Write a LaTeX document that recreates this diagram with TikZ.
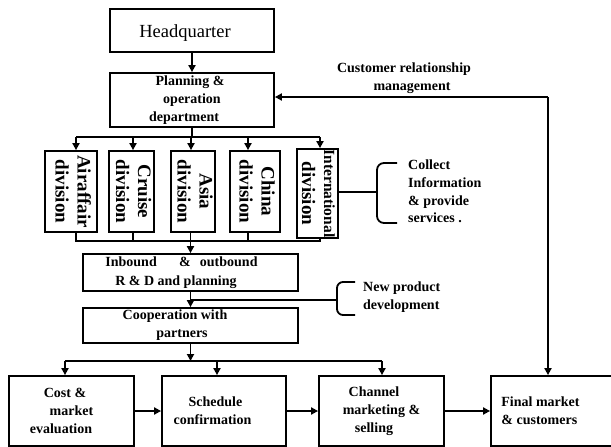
\documentclass[tikz,border=0pt]{standalone}
\usepackage{fontspec}
\setmainfont{Liberation Serif}
\usetikzlibrary{arrows.meta}
\begin{document}
\begin{tikzpicture}[x=1pt,y=-1pt,
  ln/.style={line width=1.8pt},
  arr/.style={line width=1.8pt,-{Triangle[length=7pt,width=7pt]}},
  box/.style={draw,line width=1.8pt,inner sep=0pt,align=center,font=\bfseries\fontsize{14}{18}\selectfont},
  divbox/.style={draw,line width=1.8pt,inner sep=0pt,minimum height=81pt,font=\bfseries\fontsize{19}{22}\selectfont},
  lbl/.style={inner sep=0pt,align=left,font=\bfseries\fontsize{14}{18}\selectfont}]
\useasboundingbox (0,0) rectangle (611,447);
\clip (-1,-1) rectangle (611,448);
% boxes
\node[box,font=\fontsize{18.5}{22}\selectfont,minimum width=164pt,minimum height=43pt] (hq) at (192,30.5) {\raisebox{-3pt}[\height][\depth]{Headquarter}\hspace*{14pt}};
\node[box,minimum width=164pt,minimum height=54pt] (plan) at (192,100) {Planning \&\hspace*{4pt}\\operation\hspace*{20pt}\\department\hspace*{16pt}};
\node[divbox,minimum width=52pt] (d1) at (71,191.5) {\makebox[0pt]{\rotatebox{-90}{\begin{tabular}{@{}c@{}}Airaffair\\division\end{tabular}}}};
\node[divbox,minimum width=45pt] (d2) at (131.5,191.5) {\makebox[0pt]{\rotatebox{-90}{\begin{tabular}{@{}c@{}}Cruise\\division\end{tabular}}}};
\node[divbox,minimum width=44pt] (d3) at (193,191.5) {\makebox[0pt]{\rotatebox{-90}{\begin{tabular}{@{}c@{}}Asia\\division\end{tabular}}}};
\node[divbox,minimum width=50pt] (d4) at (255,191.5) {\makebox[0pt]{\rotatebox{-90}{\begin{tabular}{@{}c@{}}China\\division\end{tabular}}}};
\node[divbox,minimum width=41pt,minimum height=89pt] (d5) at (317.5,193.5) {\makebox[0pt]{\rotatebox{-90}{\begin{tabular}{@{}c@{}}{\fontsize{15.5}{22}\selectfont International}\\division\end{tabular}}}};
\node[box,font=\bfseries\fontsize{14}{19}\selectfont,minimum width=215pt,minimum height=37pt] (inb) at (190.5,272.5) {Inbound\hspace{1.6em}\&\hspace{0.65em}outbound\hspace*{18pt}\\R \& D and planning\hspace*{29pt}};
\node[box,minimum width=215pt,minimum height=35pt] (coop) at (190.5,325.5) {Cooperation with\hspace*{31pt}\\partners\hspace*{17pt}};
\node[box,minimum width=125pt,minimum height=70pt] (cost) at (71.5,411) {Cost \&\hspace*{13pt}\\market\hspace*{13pt}\\evaluation\hspace*{21pt}};
\node[box,minimum width=124pt,minimum height=70pt] (sched) at (224,411) {Schedule\hspace*{17pt}\\confirmation\hspace*{23pt}};
\node[box,minimum width=125pt,minimum height=70pt] (chan) at (381.5,411) {Channel\hspace*{15pt}\\marketing \&\hspace*{15pt}\\selling\hspace*{15pt}};
\node[box,align=left,minimum width=149pt,minimum height=70pt] (final) at (565.5,411) {Final market\hspace*{50pt}\\\& customers\hspace*{50pt}};
% labels
\node[lbl,align=center] (crm) at (404,78) {Customer relationship\\\hspace*{16pt}management};
\node[lbl,anchor=west,font=\bfseries\fontsize{14}{17.7}\selectfont] (col) at (408,191.5) {Collect\\Information\\\& provide\\services .};
\node[lbl,anchor=west] (npd) at (363,297) {New product\\development};
% coordinates
\coordinate (t1) at (76,137);
\coordinate (t2) at (133,137);
\coordinate (t3) at (191,137);
\coordinate (t4) at (248,137);
\coordinate (t5) at (320,137);
\coordinate (b1) at (76,241);
\coordinate (b2) at (133,241);
\coordinate (b3) at (190.5,241);
\coordinate (b4) at (248,241);
\coordinate (b5) at (320,241);
\coordinate (np) at (190.5,300);
\coordinate (nb) at (337,300);
\coordinate (cb) at (377,192);
\coordinate (cl) at (65,361);
\coordinate (cm) at (217,361);
\coordinate (cr) at (382,361);
\coordinate (cc) at (548,97);
% connectors
\draw[arr] (hq) -- (plan);
\draw[ln] (plan.south) -- (plan.south |- t1);
\draw[ln] (t1) -- (t5);
\draw[arr] (t1) -- (t1 |- d1.north);
\draw[arr] (t2) -- (t2 |- d2.north);
\draw[arr] (t3) -- (t3 |- d3.north);
\draw[arr] (t4) -- (t4 |- d4.north);
\draw[arr] (t5) -- (t5 |- d5.north);
\draw[ln] (b1 |- d1.south) -- (b1) -- (b5) -- (b5 |- d5.south);
\draw[ln] (b2 |- d2.south) -- (b2);
\draw[ln] (b3 |- d3.south) -- (b3);
\draw[ln] (b4 |- d4.south) -- (b4);
\draw[arr] (b3) -- (inb.north);
\draw[arr] (inb.south) -- (coop.north);
\draw[ln] (np) -- (nb);
\draw[ln,rounded corners=6pt] (355,282) -- (337,282) -- (337,315) -- (355,315);
\draw[ln] (d5.east |- cb) -- (cb);
\draw[ln,rounded corners=7pt] (397,163) -- (377,163) -- (377,223) -- (397,223);
\draw[arr] (coop.south) -- (coop.south |- cm);
\draw[ln] (cl) -- (cr);
\draw[arr] (cl) -- (cl |- cost.north);
\draw[arr] (cm) -- (cm |- sched.north);
\draw[arr] (cr) -- (cr |- chan.north);
\draw[arr] (cost.east) -- (sched.west);
\draw[arr] (sched.east) -- (chan.west);
\draw[arr] (chan.east) -- (final.west);
\draw[arr] (cc) -- (plan.east |- cc);
\draw[arr] (cc) -- (cc |- final.north);
\end{tikzpicture}
\end{document}
